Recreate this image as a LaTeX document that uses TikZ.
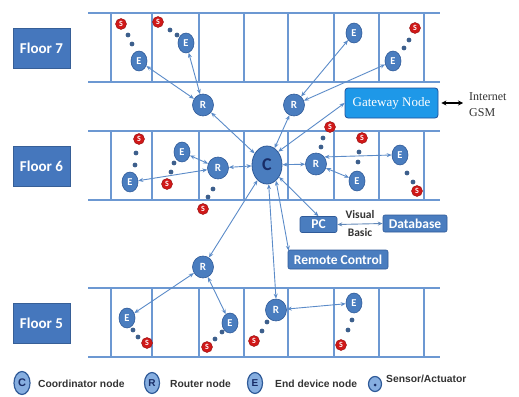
\documentclass[tikz,border=0pt]{standalone}
\usepackage{fontspec}
\usetikzlibrary{shapes.geometric,arrows.meta,calc}
\newfontfamily\carl{Carlito}
\newfontfamily\lsans{Liberation Sans}
\newfontfamily\tms{Liberation Serif}
\definecolor{lineblue}{HTML}{6C98D2}
\definecolor{floorblue}{HTML}{4577BD}
\definecolor{nodeblue}{HTML}{4A7DBF}
\definecolor{nodeedge}{HTML}{2F5A98}
\definecolor{linkblue}{HTML}{5B8BC8}
\definecolor{sred}{HTML}{D01818}
\definecolor{dotcol}{HTML}{3D5F8C}
\definecolor{gatefill}{HTML}{1E98E8}
\definecolor{gateedge}{HTML}{1F4F9A}
\definecolor{navy}{HTML}{182C66}
\definecolor{legfill}{HTML}{86AEE0}
\definecolor{txtgray}{HTML}{333333}
\tikzset{
  floorline/.style={draw=lineblue,line width=1.8pt},
  floorbox/.style={rectangle,fill=floorblue,draw=floorblue!80!black,line width=0.6pt,minimum width=57pt,minimum height=40pt,text=white,font=\carl\bfseries\fontsize{15}{15}\selectfont},
  rnode/.style={ellipse,fill=nodeblue,draw=nodeedge,line width=0.6pt,minimum width=21pt,minimum height=22pt,inner sep=0pt,text=white,font=\carl\bfseries\fontsize{11}{11}\selectfont},
  enode/.style={ellipse,fill=nodeblue,draw=nodeedge,line width=0.6pt,minimum width=16pt,minimum height=20pt,inner sep=0pt,text=white,font=\carl\bfseries\fontsize{10.5}{10.5}\selectfont},
  cnode/.style={ellipse,fill=nodeblue,draw=nodeedge,line width=0.8pt,minimum width=30pt,minimum height=38pt,inner sep=0pt,text=navy,font=\carl\bfseries\fontsize{18}{18}\selectfont},
  snode/.style={circle,fill=sred,draw=sred!70!black,line width=0.4pt,minimum size=11pt,inner sep=0pt,text=white,font=\carl\bfseries\fontsize{8}{8}\selectfont},
  dotnode/.style={circle,fill=dotcol,minimum size=4.8pt,inner sep=0pt},
  link/.style={draw=linkblue,line width=0.9pt,{Stealth[length=5pt,width=4pt]}-{Stealth[length=5pt,width=4pt]}},
  appbox/.style={rectangle,rounded corners=2pt,fill=nodeblue,draw=nodeedge,line width=0.6pt,inner sep=0pt,text=white,font=\carl\bfseries\fontsize{13.5}{13.5}\selectfont},
  legnode/.style={ellipse,fill=legfill,draw=nodeedge,line width=1.2pt,minimum width=15pt,minimum height=21pt,inner sep=0pt,text=navy,font=\lsans\bfseries\fontsize{10}{10}\selectfont},
  legtext/.style={anchor=west,inner sep=0pt,text=txtgray,font=\lsans\bfseries\fontsize{10.3}{10.3}\selectfont}
}
\begin{document}
\begin{tikzpicture}[x=1pt,y=-1pt]
\useasboundingbox (0,0) rectangle (519,396);
% floors
\foreach \yt/\yb in {13/82,131/200,288/357}{
  \draw[floorline] (88,\yt) -- (440,\yt);
  \draw[floorline] (88,\yb) -- (440,\yb);
  \foreach \xv in {111,152,199,244,288,334,379,424}
    \draw[floorline] (\xv,\yt) -- (\xv,\yb);
}
\node[floorbox] (F7) at (41.5,48) {Floor 7};
\node[floorbox] (F6) at (41.5,166) {Floor 6};
\node[floorbox] (F5) at (41.5,323) {Floor 5};

% dots (drawn first)
\foreach \px/\py [count=\i] in {128/35,132/44,170/30,177/35,404/48,409/40,
  136/153,135/165,174/163,171/172,213/189,208/197,323/138,321/147,359/152,358/162,407/173,413/182,
  133/330,138/337,222/332,215/339,267/322,262/331,352/320,348/330}
  \node[dotnode] (d\i) at (\px,\py) {};

% floor 7
\node[snode] (S7a) at (121,24) {S};
\node[snode] (S7b) at (158,22) {S};
\node[snode] (S7c) at (415,28) {S};
\node[enode] (E7a) at (139,61) {E};
\node[enode] (E7b) at (186,43) {E};
\node[enode] (E7c) at (354,33) {E};
\node[enode] (E7d) at (393,61) {E};
\node[rnode] (R7a) at (203,105) {R};
\node[rnode] (R7b) at (294,105) {R};

% gateway
\node[rectangle,rounded corners=3pt,fill=gatefill,draw=gateedge,line width=0.8pt,minimum width=93pt,minimum height=30pt,inner sep=0pt,text=white,font=\tms\fontsize{13}{13}\selectfont] (GW) at (391.5,103) {Gateway Node};
\coordinate (NetEnd) at (463,103);
\draw[line width=1.1pt,{Stealth[length=5pt,width=5pt]}-{Stealth[length=5pt,width=5pt]}] ([xshift=3pt]GW.east) -- (NetEnd);
\node[anchor=west,inner sep=0pt,text=txtgray,font=\tms\fontsize{12}{12}\selectfont] (NetT) at (469,97) {Internet};
\node[anchor=west,inner sep=0pt,text=txtgray,font=\tms\fontsize{12}{12}\selectfont] (GsmT) at (469,113) {GSM};

% floor 6
\node[cnode] (C) at (267,165) {C};
\node[rnode] (R6a) at (218,168) {R};
\node[rnode] (R6b) at (316,164) {R};
\node[enode] (E6a) at (182,152) {E};
\node[enode] (E6b) at (130,182) {E};
\node[enode] (E6c) at (357,181) {E};
\node[enode] (E6d) at (400,155) {E};
\node[snode] (S6a) at (139,139) {S};
\node[snode] (S6b) at (167,184) {S};
\node[snode] (S6c) at (203,209) {S};
\node[snode] (S6d) at (330,127) {S};
\node[snode] (S6e) at (362,138) {S};
\node[snode] (S6f) at (417,191) {S};

% apps
\node[appbox,minimum width=37pt,minimum height=16pt] (PC) at (318.5,224.5) {PC};
\node[appbox,minimum width=64pt,minimum height=17pt] (DB) at (415,223.5) {Database};
\node[appbox,minimum width=100pt,minimum height=19pt] (RC) at (338,259.5) {Remote Control};
\node[inner sep=0pt,text=txtgray,font=\carl\bfseries\fontsize{11.5}{11.5}\selectfont] (VB1) at (360,215) {Visual};
\node[inner sep=0pt,text=txtgray,font=\carl\bfseries\fontsize{11.5}{11.5}\selectfont] (VB2) at (360,233) {Basic};

% floor 5
\node[rnode] (R5a) at (203,267) {R};
\node[rnode] (R5b) at (276,310) {R};
\node[enode] (E5a) at (127,318) {E};
\node[enode] (E5b) at (230,323) {E};
\node[enode] (E5c) at (354,303) {E};
\node[snode] (S5a) at (147,343) {S};
\node[snode] (S5b) at (207,347) {S};
\node[snode] (S5c) at (254,341) {S};
\node[snode] (S5d) at (341,345) {S};

% links
\draw[link] (R7a) -- (E7a);
\draw[link] (R7a) -- (E7b);
\draw[link] (R7b) -- (E7c);
\draw[link] (R7b) -- (E7d);
\draw[link] (R7a) -- (C);
\draw[link] (R7b) -- (C);
\draw[link] (C.50) -- (GW.west);
\draw[link] (C) -- (R6a);
\draw[link] (R6a) -- (E6a);
\draw[link] (R6a) -- (E6b);
\draw[link] (C) -- (R6b);
\draw[link] (R6b.40) -- (E6d.west);
\draw[link] (R6b) -- (E6c);
\draw[link] (C) -- (PC.north);
\draw[link] (C) -- (R5a);
\draw[link] (C.-85) -- (R5b.north);
\draw[link] (C.-60) -- ([xshift=1pt,yshift=-1pt]RC.north west);
\draw[link] (R5a) -- (E5a);
\draw[link] (R5a) -- (E5b);
\draw[link] (R5b) -- (E5c);
\draw[draw=linkblue!80!gray,line width=0.9pt,{Stealth[length=5pt,width=4pt]}-{Stealth[length=5pt,width=4pt]}] (PC.east) -- (DB.west);

% legend
\node[legnode,minimum width=16pt,minimum height=23pt,font=\lsans\bfseries\fontsize{11}{11}\selectfont] (LC) at (22,383) {C};
\node[legtext] (LCt) at (38,384) {Coordinator node};
\node[legnode] (LR) at (152,383) {R};
\node[legtext] (LRt) at (170,384) {Router node};
\node[legnode] (LE) at (255,383) {E};
\node[legtext] (LEt) at (275,384) {End device node};
\node[legnode,minimum width=13pt,minimum height=15pt] (LS) at (375,384) {};
\node[circle,fill=navy,minimum size=3pt,inner sep=0pt] (LSd) at (375,385) {};
\node[legtext] (LSt) at (386,379) {Sensor/Actuator};
\end{tikzpicture}
\end{document}
